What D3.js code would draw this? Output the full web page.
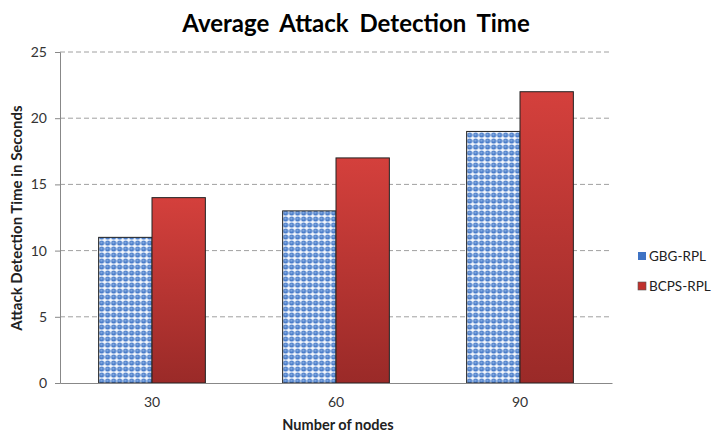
<!DOCTYPE html>
<html>
<head>
<meta charset="utf-8">
<script src="https://cdn.jsdelivr.net/npm/d3@7"></script>
<style>
  body { margin: 0; background: #fff; }
  text { font-family: Lato, "Open Sans", sans-serif; }
</style>
</head>
<body>
<svg id="chart" width="720" height="440"></svg>
<script>
// chart data
var nodes = ["30", "60", "90"];
var seriesNames = ["GBG-RPL", "BCPS-RPL"];
var gbgValues = [11, 13, 19];
var bcpsValues = [14, 17, 22];
var yTicks = [0, 5, 10, 15, 20, 25];

var svg = d3.select("#chart");
var plotLeft = 60, plotRight = 612, plotTop = 52, plotBottom = 383;

var defs = svg.append("defs");
// dotted fill for the blue series
var pat = defs.append("pattern")
    .attr("id", "dots")
    .attr("patternUnits", "userSpaceOnUse")
    .attr("width", 6).attr("height", 6);
pat.append("rect").attr("width", 6).attr("height", 6).attr("fill", "#f4f7fc");
pat.append("circle").attr("cx", 3).attr("cy", 3).attr("r", 2.6).attr("fill", "#4a7dca");
pat.append("circle").attr("cx", 2.7).attr("cy", 2.7).attr("r", 1.1).attr("fill", "#86abe0");

var grad = defs.append("linearGradient")
    .attr("id", "redgrad")
    .attr("x1", 0).attr("y1", 0).attr("x2", 0).attr("y2", 1);
grad.append("stop").attr("offset", "0%").attr("stop-color", "#d4403c");
grad.append("stop").attr("offset", "100%").attr("stop-color", "#9a2a28");

var x = d3.scaleBand().domain(nodes).range([plotLeft, plotRight]).paddingInner(0.42).paddingOuter(0.21);
var xs = d3.scaleBand().domain(seriesNames).range([0, x.bandwidth()]);
var y = d3.scaleLinear().domain([0, 25]).range([plotBottom, plotTop]);

// grid lines
svg.append("g")
    .selectAll("line")
    .data(yTicks.slice(1))
    .enter()
    .append("line")
    .attr("x1", plotLeft).attr("x2", plotRight)
    .attr("y1", function(d) { return y(d); })
    .attr("y2", function(d) { return y(d); })
    .attr("stroke", "#a0a0a0")
    .attr("stroke-dasharray", "5,3");

// y axis
var yAxis = svg.append("g")
    .attr("transform", "translate(" + plotLeft + ",0)")
    .call(d3.axisLeft(y).tickValues(yTicks).tickSize(5).tickPadding(8));
yAxis.select(".domain").attr("stroke", "#888");
yAxis.selectAll(".tick line").attr("stroke", "#888");
yAxis.selectAll("text").attr("font-size", 14).attr("fill", "#333")
    .attr("font-family", "Lato, sans-serif");

var groups = svg.append("g")
    .selectAll("g")
    .data(nodes)
    .enter()
    .append("g")
    .attr("transform", function(d) { return "translate(" + x(d) + ",0)"; });

groups.append("rect")
    .attr("x", xs("GBG-RPL"))
    .attr("width", xs.bandwidth())
    .attr("y", function(d, i) { return y(gbgValues[i]); })
    .attr("height", function(d, i) { return y(0) - y(gbgValues[i]); })
    .attr("fill", "url(#dots)")
    .attr("stroke", "#222")
    .attr("stroke-width", 1);

groups.append("rect")
    .attr("x", xs("BCPS-RPL"))
    .attr("width", xs.bandwidth())
    .attr("y", function(d, i) { return y(bcpsValues[i]); })
    .attr("height", function(d, i) { return y(0) - y(bcpsValues[i]); })
    .attr("fill", "url(#redgrad)")
    .attr("stroke", "#222")
    .attr("stroke-width", 1);

// x axis
var xAxis = svg.append("g")
    .attr("transform", "translate(0," + plotBottom + ")")
    .call(d3.axisBottom(x).tickSize(0).tickPadding(14));
xAxis.select(".domain").attr("stroke", "#888");
xAxis.selectAll("text").attr("font-size", 14).attr("fill", "#333")
    .attr("font-family", "Lato, sans-serif");

// titles
svg.append("text")
    .attr("x", 356).attr("y", 32)
    .attr("text-anchor", "middle")
    .attr("font-size", 24).attr("font-weight", "bold")
    .attr("word-spacing", 5)
    .text("Average Attack Detection Time");

svg.append("text")
    .attr("x", 338).attr("y", 430)
    .attr("text-anchor", "middle")
    .attr("font-size", 14.5).attr("font-weight", "bold")
    .attr("fill", "#222")
    .text("Number of nodes");

svg.append("text")
    .attr("transform", "translate(22,218) rotate(-90)")
    .attr("text-anchor", "middle")
    .attr("font-size", 15).attr("font-weight", "bold")
    .attr("fill", "#222")
    .text("Attack Detection Time in Seconds");

// legend
var legendColors = ["#3f73c4", "#c0312d"];
var legend = svg.append("g")
    .selectAll("g")
    .data(seriesNames)
    .enter()
    .append("g")
    .attr("transform", function(d, i) { return "translate(638," + (257 + i * 30) + ")"; });
legend.append("rect")
    .attr("x", 0).attr("y", -5)
    .attr("width", 8).attr("height", 8)
    .attr("fill", function(d, i) { return legendColors[i]; })
    .attr("stroke", function(d, i) { return i == 1 ? "#555" : "none"; })
    .attr("stroke-width", 0.6);
legend.append("text")
    .attr("x", 11).attr("y", 4)
    .attr("font-size", 13.5).attr("fill", "#222")
    .text(function(d) { return d; });
</script>
</body>
</html>
